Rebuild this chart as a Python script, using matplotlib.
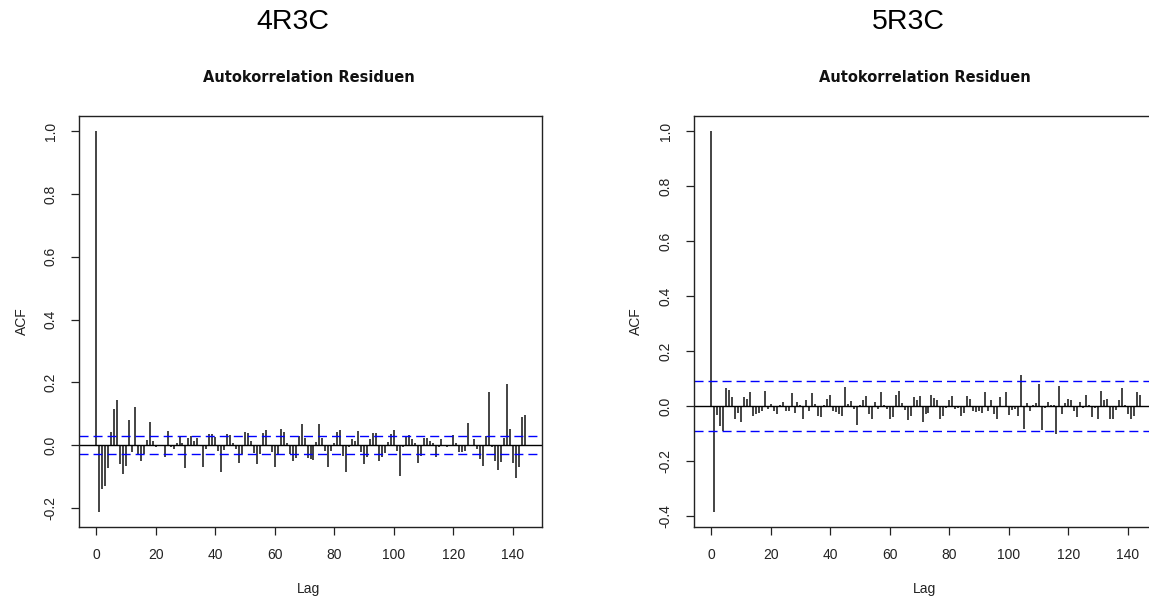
import matplotlib
matplotlib.use('Agg')
import matplotlib.pyplot as plt
import numpy as np

plt.rcParams['font.family'] = ['Liberation Sans', 'DejaVu Sans']
plt.rcParams['axes.unicode_minus'] = False

# ACF values, lags 0..144
lags = np.arange(145)

acf_4r3c = [
    1.0, -0.212, -0.140, -0.129, -0.073, 0.043, 0.114, 0.145, -0.061, -0.092,
    -0.066, 0.081, -0.023, 0.122, -0.031, -0.050, -0.028, 0.017, 0.074, 0.013,
    -0.007, -0.004, -0.004, -0.039, 0.044, -0.007, -0.013, 0.008, 0.030, 0.006,
    -0.074, 0.024, 0.028, 0.013, 0.024, -0.002, -0.069, -0.013, 0.036, 0.036,
    0.025, -0.017, -0.084, -0.015, 0.036, 0.032, 0.008, -0.013, -0.057, -0.029,
    0.042, 0.038, 0.013, -0.025, -0.060, -0.029, 0.038, 0.048, -0.003, -0.023,
    -0.069, -0.029, 0.051, 0.043, 0.008, -0.029, -0.050, -0.042, 0.030, 0.066,
    0.024, -0.041, -0.044, -0.047, 0.011, 0.067, 0.023, -0.020, -0.069, -0.018,
    0.006, 0.042, 0.050, -0.034, -0.084, -0.007, 0.019, 0.014, 0.046, -0.023,
    -0.060, -0.036, 0.021, 0.040, 0.040, -0.050, -0.039, -0.025, 0.011, 0.035,
    0.048, -0.018, -0.099, -0.007, 0.030, 0.031, 0.019, 0.008, -0.057, -0.034,
    0.024, 0.024, 0.014, 0.008, -0.036, -0.007, 0.021, -0.004, -0.007, 0.002,
    0.031, 0.006, -0.021, -0.021, -0.020, 0.070, -0.004, 0.021, -0.013, -0.044,
    -0.066, 0.030, 0.171, -0.007, -0.050, -0.079, -0.052, 0.022, 0.194, 0.051,
    -0.057, -0.106, -0.069, 0.091, 0.096,
]

acf_5r3c = [
    1.0, -0.384, -0.033, -0.072, -0.089, 0.065, 0.060, 0.035, -0.046, -0.024,
    -0.058, 0.035, 0.027, 0.052, -0.036, -0.030, -0.024, -0.016, 0.057, -0.010,
    0.008, -0.018, -0.028, 0.005, 0.014, -0.018, -0.016, 0.048, -0.024, 0.014,
    0.006, -0.048, 0.023, -0.018, 0.048, 0.008, -0.036, -0.040, 0.006, 0.027,
    0.041, -0.018, -0.021, -0.027, -0.036, 0.070, 0.008, 0.018, -0.010, -0.070,
    0.006, 0.023, 0.036, -0.028, -0.045, 0.014, -0.010, 0.053, 0.006, -0.010,
    -0.048, -0.040, 0.041, 0.057, 0.010, -0.014, -0.051, -0.036, 0.035, 0.023,
    0.036, -0.058, -0.028, -0.024, 0.041, 0.030, 0.023, -0.045, -0.036, -0.006,
    0.023, 0.036, -0.010, -0.007, -0.036, -0.024, 0.036, 0.027, -0.018, -0.021,
    -0.016, -0.024, 0.053, -0.016, 0.023, -0.030, -0.046, 0.035, -0.004, 0.052,
    -0.032, -0.014, -0.012, -0.036, 0.113, -0.084, 0.010, -0.016, 0.005, 0.010,
    0.082, -0.088, -0.006, 0.014, 0.006, 0.006, -0.101, 0.075, -0.028, 0.010,
    0.027, 0.023, -0.018, -0.041, 0.014, -0.007, 0.041, 0.006, -0.041, -0.007,
    -0.046, 0.057, 0.023, 0.027, -0.046, -0.046, -0.014, 0.023, 0.065, 0.006,
    -0.030, -0.046, -0.036, 0.052, 0.041,
]

ci_4r3c = 0.0295
ci_5r3c = 0.0906

panel_names = ['4R3C', '5R3C']
plot_title = 'Autokorrelation Residuen'


def draw_acf(ax, acf, ci, yticks):
    acf = np.array(acf)
    ax.vlines(lags, 0, acf, color='#111111', lw=1.1)
    ax.axhline(0, color='black', lw=1.0)
    for c in (ci, -ci):
        ax.axhline(c, color='#0000ff', lw=1.0, linestyle=(0, (6.5, 3.6)))
    # R style 4% padding
    xr = lags.max() - lags.min()
    ax.set_xlim(lags.min() - 0.04 * xr, lags.max() + 0.04 * xr)
    lo, hi = min(acf.min(), -ci), max(acf.max(), ci)
    yr = hi - lo
    ax.set_ylim(lo - 0.04 * yr, hi + 0.04 * yr)
    ax.set_xticks(np.arange(0, 141, 20))
    ax.set_yticks(yticks)
    ax.set_yticklabels([f'{v:.1f}' for v in yticks], rotation=90, va='center')
    ax.tick_params(direction='out', length=6, width=0.9, labelsize=10, pad=9.4,
                   colors='#222222')
    for s in ax.spines.values():
        s.set_linewidth(1.0)
        s.set_color('#222222')


fig = plt.figure(figsize=(11.49, 5.97), dpi=100)

W, H = 1149, 597
ax1 = fig.add_axes([79 / W, 1 - 527 / H, 463 / W, 411 / H])
ax2 = fig.add_axes([694 / W, 1 - 527 / H, 463 / W, 411 / H])

draw_acf(ax1, acf_4r3c, ci_4r3c, np.round(np.arange(-0.2, 1.01, 0.2), 1))
draw_acf(ax2, acf_5r3c, ci_5r3c, np.round(np.arange(-0.4, 1.01, 0.2), 1))

for name, cx, tx, acx, lx in [(panel_names[0], 293, 309, 22, 309),
                              (panel_names[1], 908, 925, 636, 924)]:
    fig.text(cx / W, 1 - 22 / H, name, fontsize=20.5, ha='center', va='center')
    fig.text(tx / W, 1 - 77 / H, plot_title, fontsize=10.5, fontweight='bold',
             family='DejaVu Sans', ha='center', va='center', color='#111111')
    fig.text(acx / W, 1 - 321 / H, 'ACF', fontsize=10, rotation=90,
             ha='center', va='center', color='#222222')
    fig.text(lx / W, 1 - 589 / H, 'Lag', fontsize=10, ha='center', va='center',
             color='#222222')

fig.savefig('out.png', dpi=100)
